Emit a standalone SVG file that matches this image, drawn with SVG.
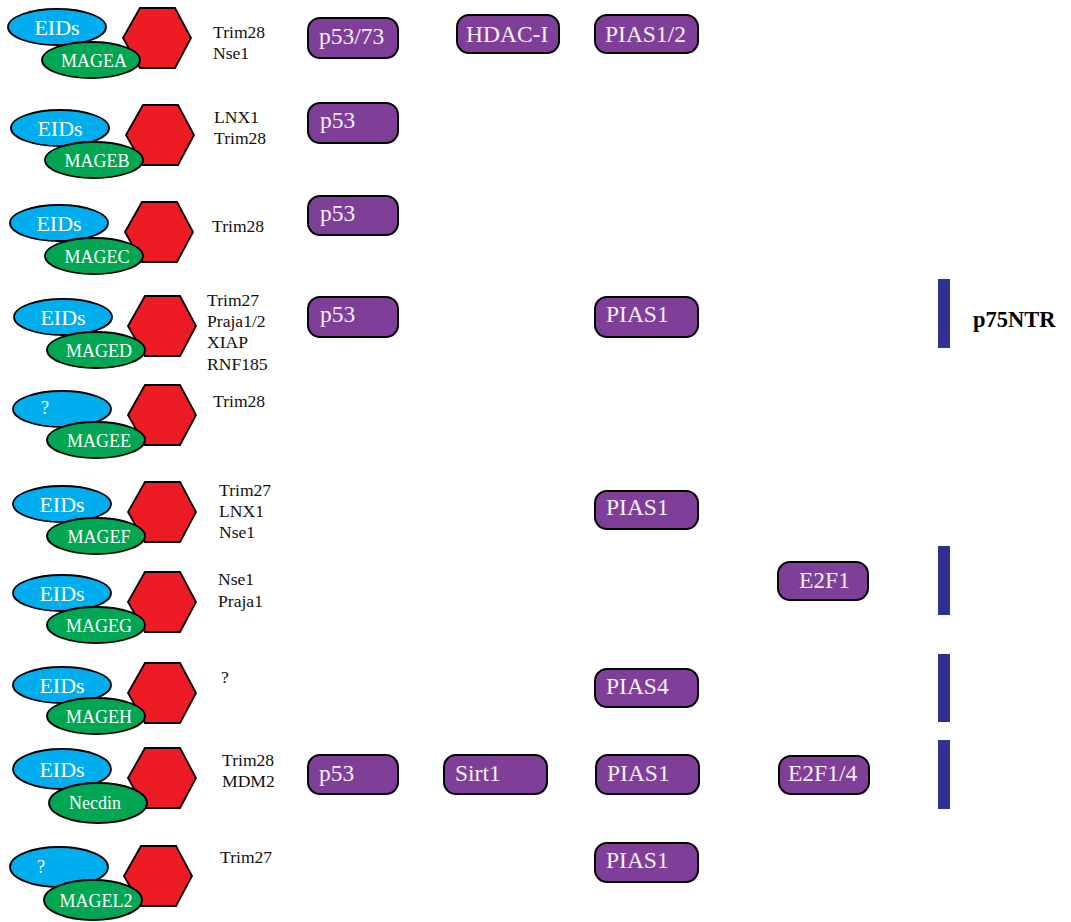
<svg xmlns="http://www.w3.org/2000/svg" width="1071" height="922" viewBox="0 0 1071 922">
<style>
.b{fill:#00aeef;stroke:#000;stroke-width:1.8}
.g{fill:#00a651;stroke:#000;stroke-width:1.8}
.h{fill:#ed1c24;stroke:#000;stroke-width:1.8;stroke-linejoin:miter}
text{font-family:'Liberation Serif','DejaVu Serif',serif}
.t{fill:#fff;text-anchor:middle}
.e{font-size:22px}
.m{font-size:18px}
.l{font-size:17.6px;fill:#111}
.p{fill:#7f3f98;stroke:#000;stroke-width:2}
.pt{font-size:23.5px;fill:#f4f0f6}
.bar{fill:#2e3192}
.nt{font-size:22.5px;font-weight:bold;fill:#000}
</style>
<defs>
<polygon id="hex" points="0,30 17,0 52,0 68,30 52,60 17,60"/>
</defs>
<rect width="1071" height="922" fill="#fff"/>

<g id="mageA">
<ellipse class="b" cx="57" cy="27" rx="49" ry="18"/>
<use href="#hex" class="h" x="123" y="8"/>
<ellipse class="g" cx="91" cy="60" rx="49" ry="18"/>
<text class="t e" x="57" y="35">EIDs</text>
<text class="t m" x="94" y="67">MAGEA</text>
<text class="l" x="213" y="38">Trim28</text>
<text class="l" x="213" y="59">Nse1</text>
</g>
<g id="mageB">
<ellipse class="b" cx="60" cy="128" rx="49" ry="18"/>
<use href="#hex" class="h" x="126" y="105"/>
<ellipse class="g" cx="94" cy="160" rx="49" ry="18"/>
<text class="t e" x="60" y="136">EIDs</text>
<text class="t m" x="97" y="167">MAGEB</text>
<text class="l" x="214" y="123">LNX1</text>
<text class="l" x="214" y="144">Trim28</text>
</g>
<g id="mageC">
<ellipse class="b" cx="59" cy="223" rx="49" ry="18"/>
<use href="#hex" class="h" x="125" y="202"/>
<ellipse class="g" cx="94" cy="256" rx="49" ry="18"/>
<text class="t e" x="59" y="231">EIDs</text>
<text class="t m" x="97" y="263">MAGEC</text>
<text class="l" x="212" y="232">Trim28</text>
</g>
<g id="mageD">
<ellipse class="b" cx="63" cy="317" rx="49" ry="18"/>
<use href="#hex" class="h" x="128" y="296"/>
<ellipse class="g" cx="96" cy="350" rx="49" ry="18"/>
<text class="t e" x="63" y="325">EIDs</text>
<text class="t m" x="99" y="357">MAGED</text>
<text class="l" x="207" y="306">Trim27</text>
<text class="l" x="207" y="327">Praja1/2</text>
<text class="l" x="207" y="348">XIAP</text>
<text class="l" x="207" y="370">RNF185</text>
</g>
<g id="mageE">
<ellipse class="b" cx="62" cy="409" rx="49" ry="18"/>
<use href="#hex" class="h" x="128" y="385"/>
<ellipse class="g" cx="96" cy="440" rx="49" ry="18"/>
<text class="t m" x="45" y="414">?</text>
<text class="t m" x="99" y="447">MAGEE</text>
<text class="l" x="213" y="407">Trim28</text>
</g>
<g id="mageF">
<ellipse class="b" cx="62" cy="504" rx="49" ry="18"/>
<use href="#hex" class="h" x="128" y="482"/>
<ellipse class="g" cx="96" cy="536" rx="49" ry="18"/>
<text class="t e" x="62" y="512">EIDs</text>
<text class="t m" x="99" y="543">MAGEF</text>
<text class="l" x="219" y="496">Trim27</text>
<text class="l" x="219" y="517">LNX1</text>
<text class="l" x="219" y="538">Nse1</text>
</g>
<g id="mageG">
<ellipse class="b" cx="62" cy="593" rx="49" ry="18"/>
<use href="#hex" class="h" x="128" y="572"/>
<ellipse class="g" cx="96" cy="625" rx="49" ry="18"/>
<text class="t e" x="62" y="601">EIDs</text>
<text class="t m" x="99" y="632">MAGEG</text>
<text class="l" x="218" y="585">Nse1</text>
<text class="l" x="218" y="607">Praja1</text>
</g>
<g id="mageH">
<ellipse class="b" cx="62" cy="685" rx="49" ry="18"/>
<use href="#hex" class="h" x="128" y="663"/>
<ellipse class="g" cx="96" cy="716" rx="49" ry="18"/>
<text class="t e" x="62" y="693">EIDs</text>
<text class="t m" x="99" y="723">MAGEH</text>
<text class="l" x="221" y="683">?</text>
</g>
<g id="necdin">
<ellipse class="b" cx="62" cy="769" rx="49" ry="20"/>
<use href="#hex" class="h" x="128" y="748"/>
<ellipse class="g" cx="98" cy="803" rx="49" ry="20"/>
<text class="t e" x="62" y="777">EIDs</text>
<text class="t m" x="95" y="809">Necdin</text>
<text class="l" x="222" y="766">Trim28</text>
<text class="l" x="222" y="787">MDM2</text>
</g>
<g id="mageL2">
<ellipse class="b" cx="59" cy="867" rx="49" ry="20"/>
<use href="#hex" class="h" x="124" y="846"/>
<ellipse class="g" cx="93" cy="900" rx="49" ry="20"/>
<text class="t m" x="41" y="873">?</text>
<text class="t m" x="96" y="907">MAGEL2</text>
<text class="l" x="220" y="863">Trim27</text>
</g>

<g id="p53-73"><rect class="p" x="308" y="18" width="90" height="40" rx="12"/><text class="pt" x="319" y="44">p53/73</text></g>
<g id="hdac"><rect class="p" x="457" y="15" width="102" height="38" rx="12"/><text class="pt" x="466" y="42">HDAC-I</text></g>
<g id="pias12"><rect class="p" x="595" y="15" width="103" height="38" rx="12"/><text class="pt" x="605" y="42">PIAS1/2</text></g>
<g id="p53-b"><rect class="p" x="308" y="103" width="90" height="40" rx="12"/><text class="pt" x="320" y="128">p53</text></g>
<g id="p53-c"><rect class="p" x="308" y="196" width="90" height="39" rx="12"/><text class="pt" x="320" y="221">p53</text></g>
<g id="p53-d"><rect class="p" x="308" y="297" width="90" height="40" rx="12"/><text class="pt" x="320" y="322">p53</text></g>
<g id="pias1-d"><rect class="p" x="595" y="297" width="103" height="40" rx="12"/><text class="pt" x="606" y="322">PIAS1</text></g>
<g id="pias1-f"><rect class="p" x="595" y="491" width="103" height="38" rx="12"/><text class="pt" x="606" y="515">PIAS1</text></g>
<g id="e2f1"><rect class="p" x="778" y="562" width="90" height="38" rx="12"/><text class="pt" x="799" y="588">E2F1</text></g>
<g id="pias4"><rect class="p" x="595" y="669" width="103" height="38" rx="12"/><text class="pt" x="606" y="694">PIAS4</text></g>
<g id="p53-i"><rect class="p" x="308" y="755" width="90" height="39" rx="12"/><text class="pt" x="319" y="781">p53</text></g>
<g id="sirt1"><rect class="p" x="444" y="755" width="103" height="39" rx="12"/><text class="pt" x="455" y="781">Sirt1</text></g>
<g id="pias1-i"><rect class="p" x="596" y="755" width="103" height="39" rx="12"/><text class="pt" x="607" y="781">PIAS1</text></g>
<g id="e2f14"><rect class="p" x="779" y="756" width="90" height="38" rx="12"/><text class="pt" x="788" y="781">E2F1/4</text></g>
<g id="pias1-j"><rect class="p" x="595" y="843" width="103" height="39" rx="12"/><text class="pt" x="606" y="868">PIAS1</text></g>

<g id="p75ntr">
<rect class="bar" x="938" y="279" width="12" height="69"/>
<text class="nt" x="973" y="327">p75NTR</text>
</g>
<g id="bar-g"><rect class="bar" x="938" y="546" width="12" height="69"/></g>
<g id="bar-h"><rect class="bar" x="938" y="654" width="12" height="68"/></g>
<g id="bar-i"><rect class="bar" x="938" y="740" width="12" height="69"/></g>
</svg>
